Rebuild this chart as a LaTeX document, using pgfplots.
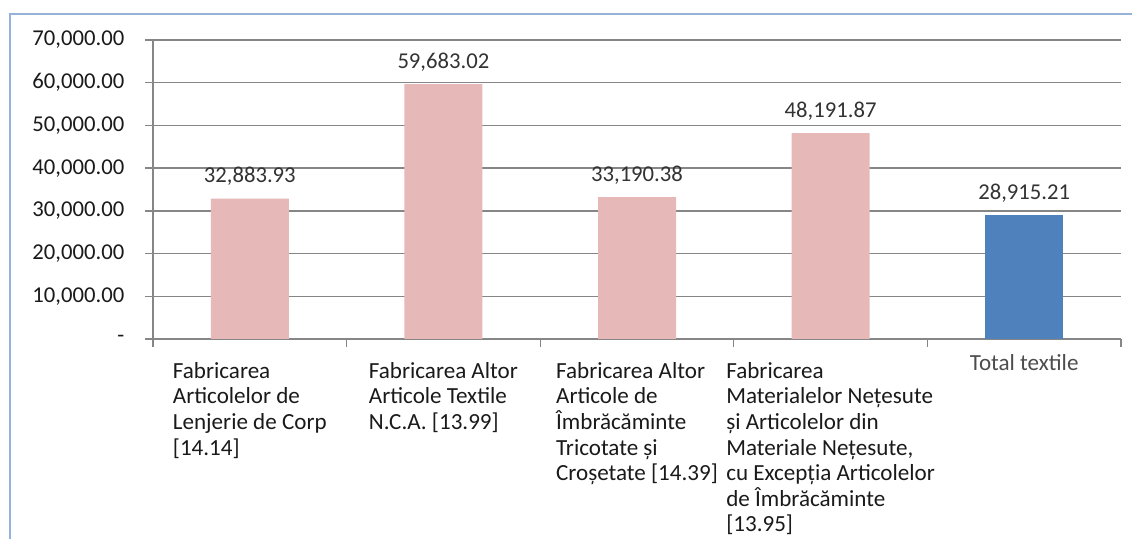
\documentclass[border=0pt]{standalone}
\usepackage{pgfplots}
\pgfplotsset{compat=1.18}
\usepackage{fontspec}
\setmainfont{Carlito}
\definecolor{pinkbar}{HTML}{E6B9B8}
\definecolor{bluebar}{HTML}{4F81BD}
\definecolor{gridc}{HTML}{868686}
\definecolor{framec}{HTML}{95B3D7}
\definecolor{txt}{HTML}{1A1A1A}
\definecolor{lbl}{HTML}{333333}
\definecolor{totc}{HTML}{4D4D4D}
\newcommand{\lf}{\fontsize{17.3}{19.2}\selectfont}
\newcommand{\smf}{\fontsize{17}{19.2}\selectfont}
\begin{document}
\begin{tikzpicture}
\useasboundingbox (0,0) rectangle (849pt,404.25pt);
\fill[white] (0,0) rectangle (849pt,404.25pt);
\draw[framec, line width=1.3pt] (7.5pt,0) -- (7.5pt,393.75pt) -- (849pt,393.75pt);
\begin{axis}[
  at={(114.75pt,150pt)}, anchor=south west,
  scale only axis, width=726pt, height=224.25pt,
  xmin=-0.5, xmax=4.5, ymin=0, ymax=70000,
  scaled y ticks=false,
  axis lines*=left,
  axis line style={gridc, line width=1pt},
  ytick={0,10000,20000,30000,40000,50000,60000,70000},
  yticklabels={{-},{10,000.00},{20,000.00},{30,000.00},{40,000.00},{50,000.00},{60,000.00},{70,000.00}},
  ymajorgrids, grid style={gridc, line width=1pt},
  tick style={gridc, line width=1pt},
  tick align=outside, major tick length=6pt, minor tick length=6pt,
  xtick={0,1,2,3,4},
  major x tick style={draw=none},
  minor xtick={-0.5,0.5,1.5,2.5,3.5,4.5},
  xticklabels={
    {Fabricarea\\Articolelor de\\Lenjerie de Corp\\{[14.14]}},
    {Fabricarea Altor\\Articole Textile\\N.C.A. [13.99]},
    {Fabricarea Altor\\Articole de\\Îmbrăcăminte\\Tricotate și\\Croșetate [14.39]},
    {Fabricarea\\Materialelor Nețesute\\și Articolelor din\\Materiale Nețesute,\\cu Excepția Articolelor\\de Îmbrăcăminte\\{[13.95]}},
    {\textcolor{totc}{\raisebox{6pt}[\height]{Total textile}}}
  },
  xticklabel style={align=left, anchor=north, font=\lf, text=txt, yshift=-8pt},
  yticklabel style={font=\smf, text=txt, anchor=east, xshift=-12pt},
  clip=false,
]
\addplot[ybar, bar width=58.5pt, bar shift=0pt, fill=pinkbar, draw=none,
  nodes near coords, point meta=explicit symbolic,
  every node near coord/.append style={anchor=base, yshift=12pt, font=\smf, text=lbl}]
  table[row sep=\\, meta=lab]{
  x y lab\\
  0 32883.93 32,883.93\\
  1 59683.02 59,683.02\\
  2 33190.38 33,190.38\\
  3 48191.87 48,191.87\\
};
\addplot[ybar, bar width=58.5pt, bar shift=0pt, fill=bluebar, draw=none,
  nodes near coords, point meta=explicit symbolic,
  every node near coord/.append style={anchor=base, yshift=12pt, font=\smf, text=lbl}]
  table[row sep=\\, meta=lab]{
  x y lab\\
  4 28915.21 28,915.21\\
};
\end{axis}
\end{tikzpicture}
\end{document}
